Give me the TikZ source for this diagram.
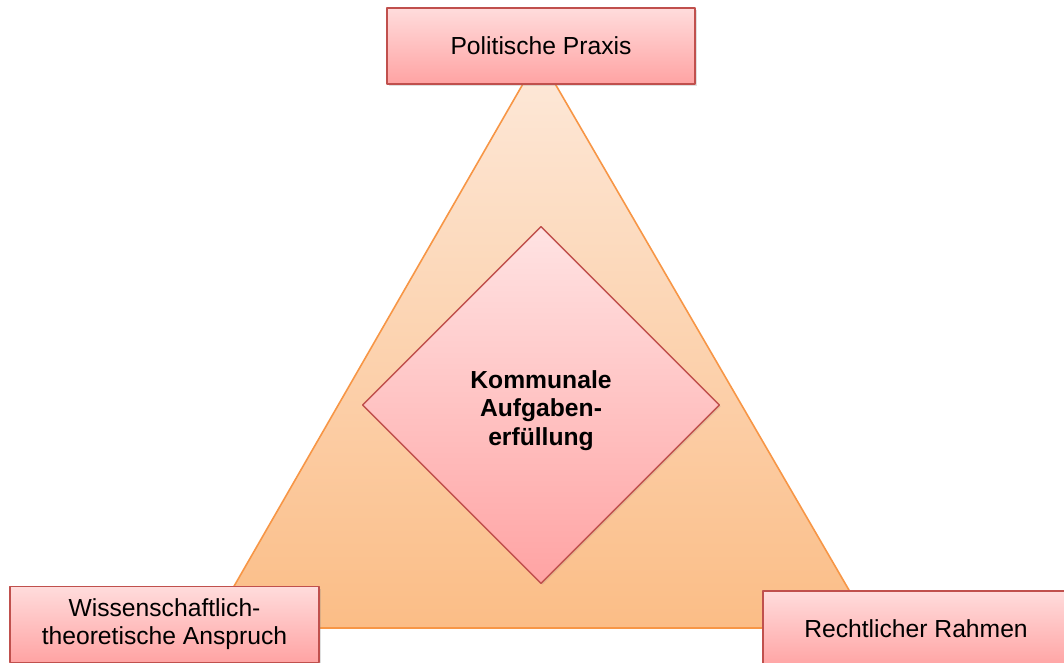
\documentclass[tikz,border=0pt]{standalone}
\usepackage{fontspec}
\setmainfont{Liberation Sans}
\usetikzlibrary{shapes.geometric,shadows}

\definecolor{randrot}{HTML}{C0504D}
\definecolor{rosahell}{HTML}{FFDCDC}
\definecolor{rosa}{HTML}{FFA3A3}
\definecolor{orange1}{HTML}{F79646}
\definecolor{pfirsichhell}{HTML}{FDE9DA}
\definecolor{pfirsich}{HTML}{FBBD86}

\begin{document}
\begin{tikzpicture}[line cap=round,line join=round,x=0.75pt,y=-0.75pt,
    ecke/.style={draw=randrot,line width=1.3pt,top color=rosahell,bottom color=rosa,
      minimum height=57pt,align=center,inner sep=0pt,
      font=\fontsize{18.5}{21}\selectfont,
      drop shadow={opacity=0.25,shadow xshift=1.5pt,shadow yshift=-1.5pt}},
    mitte/.style={diamond,aspect=1,draw=randrot,line width=1pt,top color=rosahell!80!white,
      bottom color=rosa,minimum width=268pt,minimum height=268pt,inner sep=0pt,align=center,
      font=\fontsize{18.5}{21.5}\selectfont\bfseries,
      drop shadow={opacity=0.2,shadow xshift=1pt,shadow yshift=-1pt}}]
      \useasboundingbox (0,0) rectangle (1064,663);

      % Dreieck
      \coordinate (spitze) at (539,56);
      \coordinate (links) at (210,628);
      \coordinate (rechts) at (871,628);
      \shade[top color=pfirsichhell,bottom color=pfirsich,draw=orange1,line width=1.2pt]
            (spitze) -- (links) -- (rechts) -- cycle;

      % Raute in der Mitte
      \node[mitte] (aufgabe) at (541,405)
            {\raisebox{-4.5pt}[\height][\depth]{\begin{tabular}{@{}c@{}}Kommunale\\Aufgaben-\\erfüllung\end{tabular}}};

      % Ecken
      \node[ecke,minimum width=231pt] (praxis) at (541,46) {Politische Praxis};
      \node[ecke,minimum width=232pt] (wissen) at (164.5,624.5) {Wissenschaftlich-\\theoretische Anspruch};
      \node[ecke,minimum width=229pt] (recht) at (916,629) {Rechtlicher Rahmen};
    \end{tikzpicture}
\end{document}
